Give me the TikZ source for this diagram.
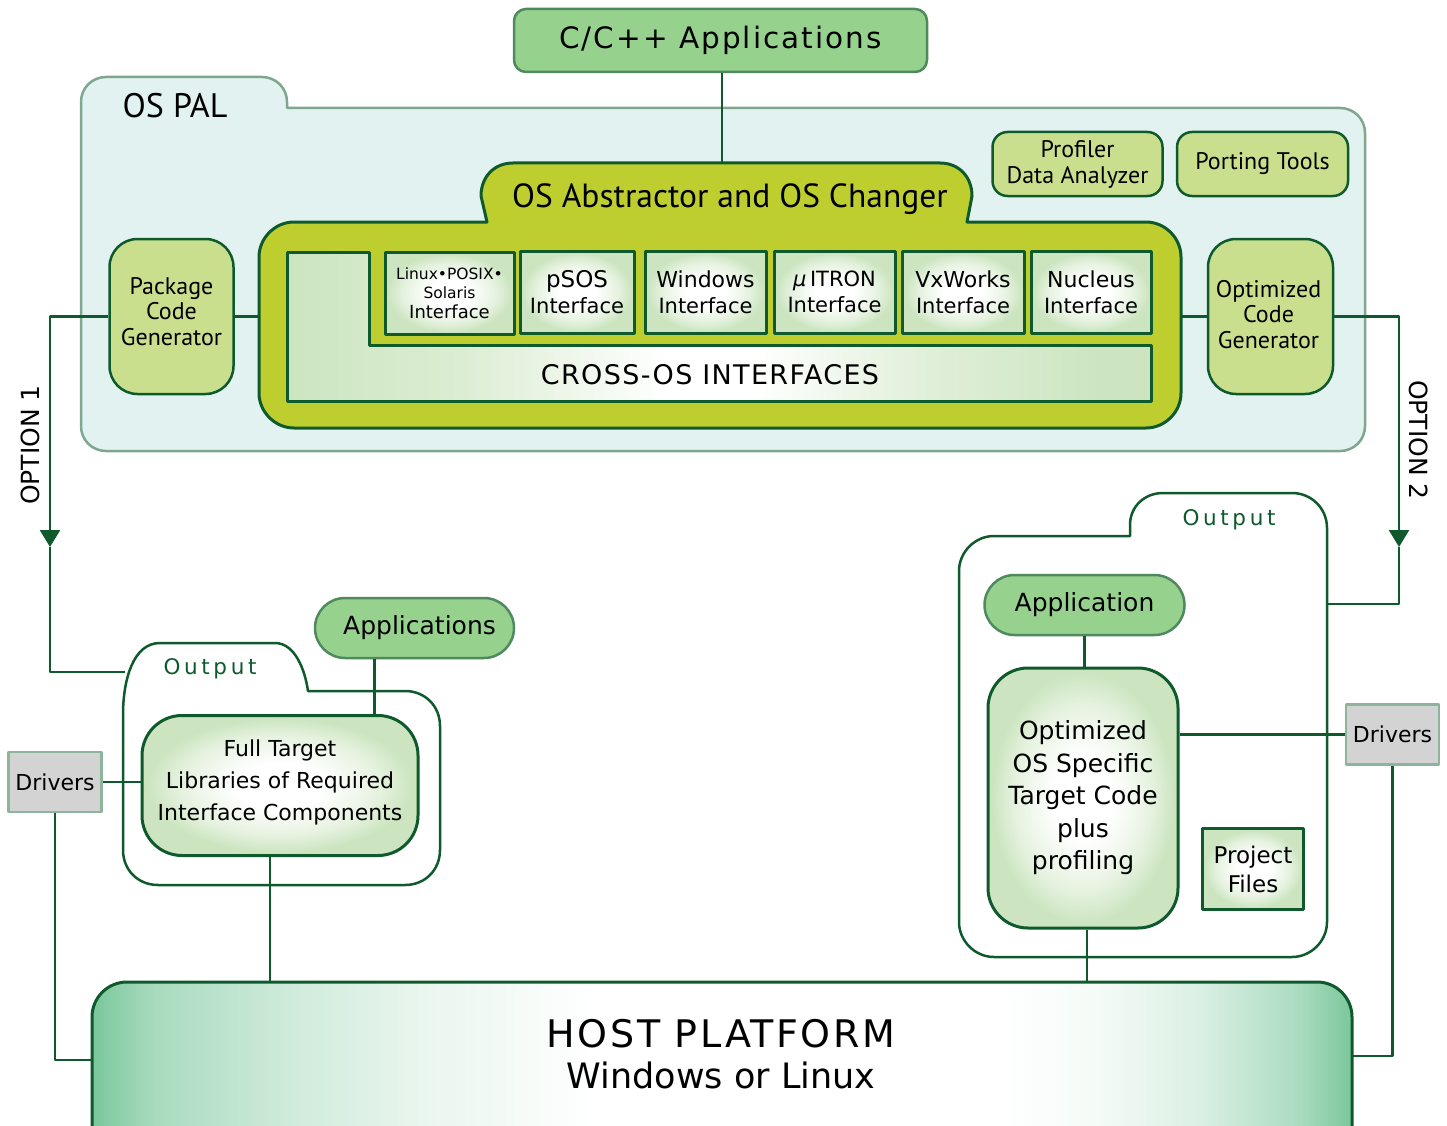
\documentclass[tikz,border=0pt]{standalone}
\usepackage{fontspec}
\setmainfont{DejaVu Sans}
\newfontfamily\pts{PT Sans}
\newfontfamily\lsA{DejaVu Sans}[LetterSpace=6.8]
\newfontfamily\lsB{DejaVu Sans}[LetterSpace=5]
\newfontfamily\lsC{DejaVu Sans}[LetterSpace=17]
\usetikzlibrary{arrows.meta}
\newcommand\fsz[2]{\fontsize{#1}{#2}\selectfont}
\definecolor{dkg}{HTML}{0E5A2C}
\definecolor{appg}{HTML}{96D28E}
\definecolor{appb}{HTML}{4F8A5E}
\definecolor{palf}{HTML}{E2F2F1}
\definecolor{palb}{HTML}{7FA78E}
\definecolor{olive}{HTML}{BDCE2E}
\definecolor{pkgf}{HTML}{C9DF8E}
\definecolor{lg}{HTML}{CCE5C0}
\definecolor{drvf}{HTML}{D3D3D3}
\definecolor{drvb}{HTML}{8DB59C}
\definecolor{hostg}{HTML}{7AC79B}
\pgfdeclareradialshading{rg}{\pgfpoint{0bp}{0bp}}{color(0bp)=(white); color(8bp)=(white); color(18bp)=(lg!50!white); color(24bp)=(lg); color(100bp)=(lg)}
\pgfdeclarehorizontalshading{hosts}{100bp}{color(0bp)=(hostg); color(25bp)=(hostg); color(27.5bp)=(hostg!65!white); color(32.5bp)=(hostg!38!white); color(37.5bp)=(hostg!18!white); color(45bp)=(white); color(61bp)=(white); color(65bp)=(hostg!8!white); color(69bp)=(hostg!28!white); color(73bp)=(hostg!65!white); color(75bp)=(hostg); color(100bp)=(hostg)}
\pgfdeclarehorizontalshading{crosss}{100bp}{color(0bp)=(lg); color(25bp)=(lg); color(35bp)=(lg!70!white); color(47bp)=(white); color(52bp)=(white); color(62bp)=(lg!60!white); color(72bp)=(lg); color(100bp)=(lg)}
\begin{document}
\begin{tikzpicture}[x=1pt,y=-1pt,line join=round,
  ln/.style={draw=dkg,line width=2.5pt},
  gbox/.style={draw=dkg,line width=3pt,shade,shading=rg},
  pill/.style={draw=appb,fill=appg,line width=2.5pt,rounded corners=30pt,minimum height=60pt,inner sep=0pt},
  pk/.style={draw=dkg,fill=pkgf,line width=2.5pt,rounded corners=28pt,inner sep=0pt},
  ifc/.style={gbox,minimum height=82pt,inner sep=0pt,align=center,font=\fsz{21}{26}},
  drv/.style={draw=drvb,fill=drvf,line width=2.5pt,minimum width=93pt,minimum height=60pt,inner sep=0pt,font=\fsz{22}{26}},
  cont/.style={draw=dkg,line width=2.5pt,fill=white},
  arr/.style={ln,-{Triangle[width=20pt,length=17pt]}}]
\useasboundingbox (0,0) rectangle (1447,1126);
\clip (0,0) rectangle (1447,1126);

% OS PAL container
\path[draw=palb,fill=palf,line width=2.5pt] (81,426) -- (81,102) .. controls (81,88) and (92,77) .. (106,77) -- (262,77) .. controls (276,77) and (287,88) .. (287,102) -- (287,108) -- (1340,108) .. controls (1354,108) and (1365,119) .. (1365,133) -- (1365,426) .. controls (1365,440) and (1354,451) .. (1340,451) -- (106,451) .. controls (92,451) and (81,440) .. (81,426) -- cycle;
\node[font=\pts\fsz{34}{38}] (pal) at (175,106) {OS PAL};

% OS Abstractor
\path[draw=dkg,fill=olive,line width=3pt] (487,222) -- (481,196) .. controls (481,177) and (494,163) .. (513,163) -- (940,163) .. controls (959,163) and (972,177) .. (972,196) -- (967,222) -- (1146,222) .. controls (1165,222) and (1181,238) .. (1181,257) -- (1181,393) .. controls (1181,412) and (1165,428) .. (1146,428) -- (294,428) .. controls (275,428) and (259,412) .. (259,393) -- (259,257) .. controls (259,238) and (275,222) .. (294,222) -- cycle;
\node[font=\pts\fsz{33.5}{38}] (osatab) at (730,199) {OS Abstractor and OS Changer};
\coordinate (osatop) at (722,163);
\node[minimum width=922pt,minimum height=206pt,inner sep=0pt] (osab) at (720,325) {};

% Cross-OS interfaces
\path[draw=dkg,line width=3pt,shade,shading=crosss] (287,252) -- (369,252) -- (369,345) -- (1151,345) -- (1151,401) -- (287,401) -- cycle;
\node[font=\lsB\fsz{27}{30}] (cross) at (710,375) {CROSS-OS INTERFACES};

\node[ifc,minimum width=129pt,font=\fsz{15.5}{19.5}] (lin) at (449.5,293) {Linux•POSIX•\\Solaris\\{\fsz{18}{21}Interface}};
\node[ifc,minimum width=114pt] (psos) at (577,292) {{\fsz{23}{26}pSOS}\\Interface};
\node[ifc,minimum width=121pt] (win) at (705.5,292) {{\fsz{22}{26}Windows}\\Interface};
\node[ifc,minimum width=121pt] (itron) at (834.5,292) {{\itshape μ}\,ITRON\\Interface};
\node[ifc,minimum width=122pt] (vx) at (963,292) {{\fsz{22}{26}VxWorks}\\Interface};
\node[ifc,minimum width=120pt] (nuc) at (1091,292) {{\fsz{22}{26}Nucleus}\\Interface};

% side boxes
\node[pk,minimum width=124pt,minimum height=155pt] (pkg) at (171.5,316.5) {};
\node[font=\pts\fsz{24}{25.5},align=center] (pkgt) at ([yshift=5pt]pkg.center) {Package\\Code\\Generator};
\node[pk,minimum width=125pt,minimum height=155pt] (ocg) at (1270.5,316.5) {};
\node[font=\pts\fsz{24}{25.5},align=center] (ocgt) at ([yshift=2pt,xshift=-2pt]ocg.center) {Optimized\\Code\\Generator};
\node[pk,rounded corners=15pt,minimum width=170pt,minimum height=64pt,font=\pts\fsz{24}{26},align=center] (prof) at (1077.5,164) {Profiler\\Data Analyzer};
\node[pk,rounded corners=15pt,minimum width=171pt,minimum height=64pt,font=\pts\fsz{24}{26}] (port) at (1262.5,164) {Porting Tools};

% C/C++
\node[draw=appb,fill=appg,line width=2.5pt,rounded corners=12pt,minimum width=413pt,minimum height=63pt,font=\lsA\fsz{29.5}{32}] (cpp) at (720.5,40.5) {C/C++ Applications};

% top connectors
\draw[ln] (cpp.south -| osatop) -- (osatop);
\draw[ln] (pkg.east) -- (pkg.east -| osab.west);
\draw[ln] (osab.east |- ocg.west) -- (ocg.west);
\coordinate (a1) at (50,547);
\coordinate (o1) at (125,672);
\coordinate (a2) at (1399,547);
\coordinate (o2) at (1327,604);
\draw[arr] (pkg.west) -| (a1);
\draw[ln] (a1) |- (o1);
\draw[arr] (ocg.east) -| (a2);
\draw[ln] (a2) |- (o2);
\node[rotate=90,font=\fsz{25}{30}] (opt1) at (30,445) {OPTION 1};
\node[rotate=-90,font=\fsz{25}{30}] (opt2) at (1419,440) {OPTION 2};

% host platform
\node[draw=dkg,line width=3pt,rounded corners=35pt,shade,shading=hosts,minimum width=1260pt,minimum height=190pt,inner sep=0pt] (host) at (722,1077) {};
\node[font=\lsA\fsz{38}{40}] (hostt) at (721,1034) {HOST PLATFORM};
\node[font=\fsz{35}{40}] (hosts) at (721,1075) {Windows or Linux};

% left output
\path[cont] (123,850) -- (123,715) .. controls (123,680) and (133,643) .. (160,643) -- (275,643) .. controls (295,643) and (305,670) .. (308,691) -- (405,691) .. controls (425,691) and (440,706) .. (440,726) -- (440,850) .. controls (440,870) and (425,885) .. (405,885) -- (158,885) .. controls (138,885) and (123,870) .. (123,850) -- cycle;
\node[font=\lsC\fsz{21.5}{24},text=dkg] (outl) at (210,669) {Output};
\node[pill,minimum width=199pt,font=\fsz{25}{30}] (apps) at (414.5,628) {\hspace{10pt}Applications};
\node[gbox,rounded corners=40pt,minimum width=276pt,minimum height=140pt,inner sep=0pt] (full) at (280,785.5) {};
\node[align=center,font=\fsz{22}{32}] (fullt) at ([yshift=3pt]full.center) {Full Target\\Libraries of Required\\Interface Components};
\node[drv] (drvL) at (55,782) {Drivers};
\coordinate (hL) at (92,1060);
\draw[ln] ([xshift=-40pt]apps.south) -- ([xshift=-40pt]apps.south |- full.north);
\draw[ln] (drvL.east) -- (drvL.east -| full.west);
\draw[ln] (drvL.south) |- (hL);
\draw[ln] ([xshift=-10pt]full.south) -- ([xshift=-10pt]full.south |- host.north);

% right output
\path[cont] (959,571) .. controls (959,552) and (975,536) .. (994,536) -- (1130,536) -- (1130,525) .. controls (1130,506) and (1145,493) .. (1163,493) -- (1292,493) .. controls (1311,493) and (1327,508) .. (1327,528) -- (1327,922) .. controls (1327,941) and (1311,957) .. (1292,957) -- (994,957) .. controls (975,957) and (959,941) .. (959,922) -- cycle;
\node[font=\lsC\fsz{21.5}{24},text=dkg] (outr) at (1229,520) {Output};
\node[pill,minimum width=200pt,font=\fsz{25}{30}] (app) at (1084.5,605) {Application};
\node[gbox,rounded corners=40pt,minimum width=190pt,minimum height=260pt,align=center,font=\fsz{25}{32.5},inner sep=0pt] (optos) at (1083,798) {Optimized\\OS Specific\\Target Code\\plus\\profiling};
\node[gbox,minimum width=101pt,minimum height=81pt,align=center,font=\fsz{23}{29},inner sep=0pt] (proj) at (1253,869) {Project\\Files};
\node[drv] (drvR) at (1392.5,734.5) {Drivers};
\coordinate (hR) at (1352,1056);
\draw[ln] (app.south) -- (app.south |- optos.north);
\draw[ln] (drvR.west -| optos.east) -- (drvR.west);
\draw[ln] (drvR.south) |- (hR);
\draw[ln] ([xshift=4pt]optos.south) -- ([xshift=4pt]optos.south |- host.north);
\end{tikzpicture}
\end{document}
